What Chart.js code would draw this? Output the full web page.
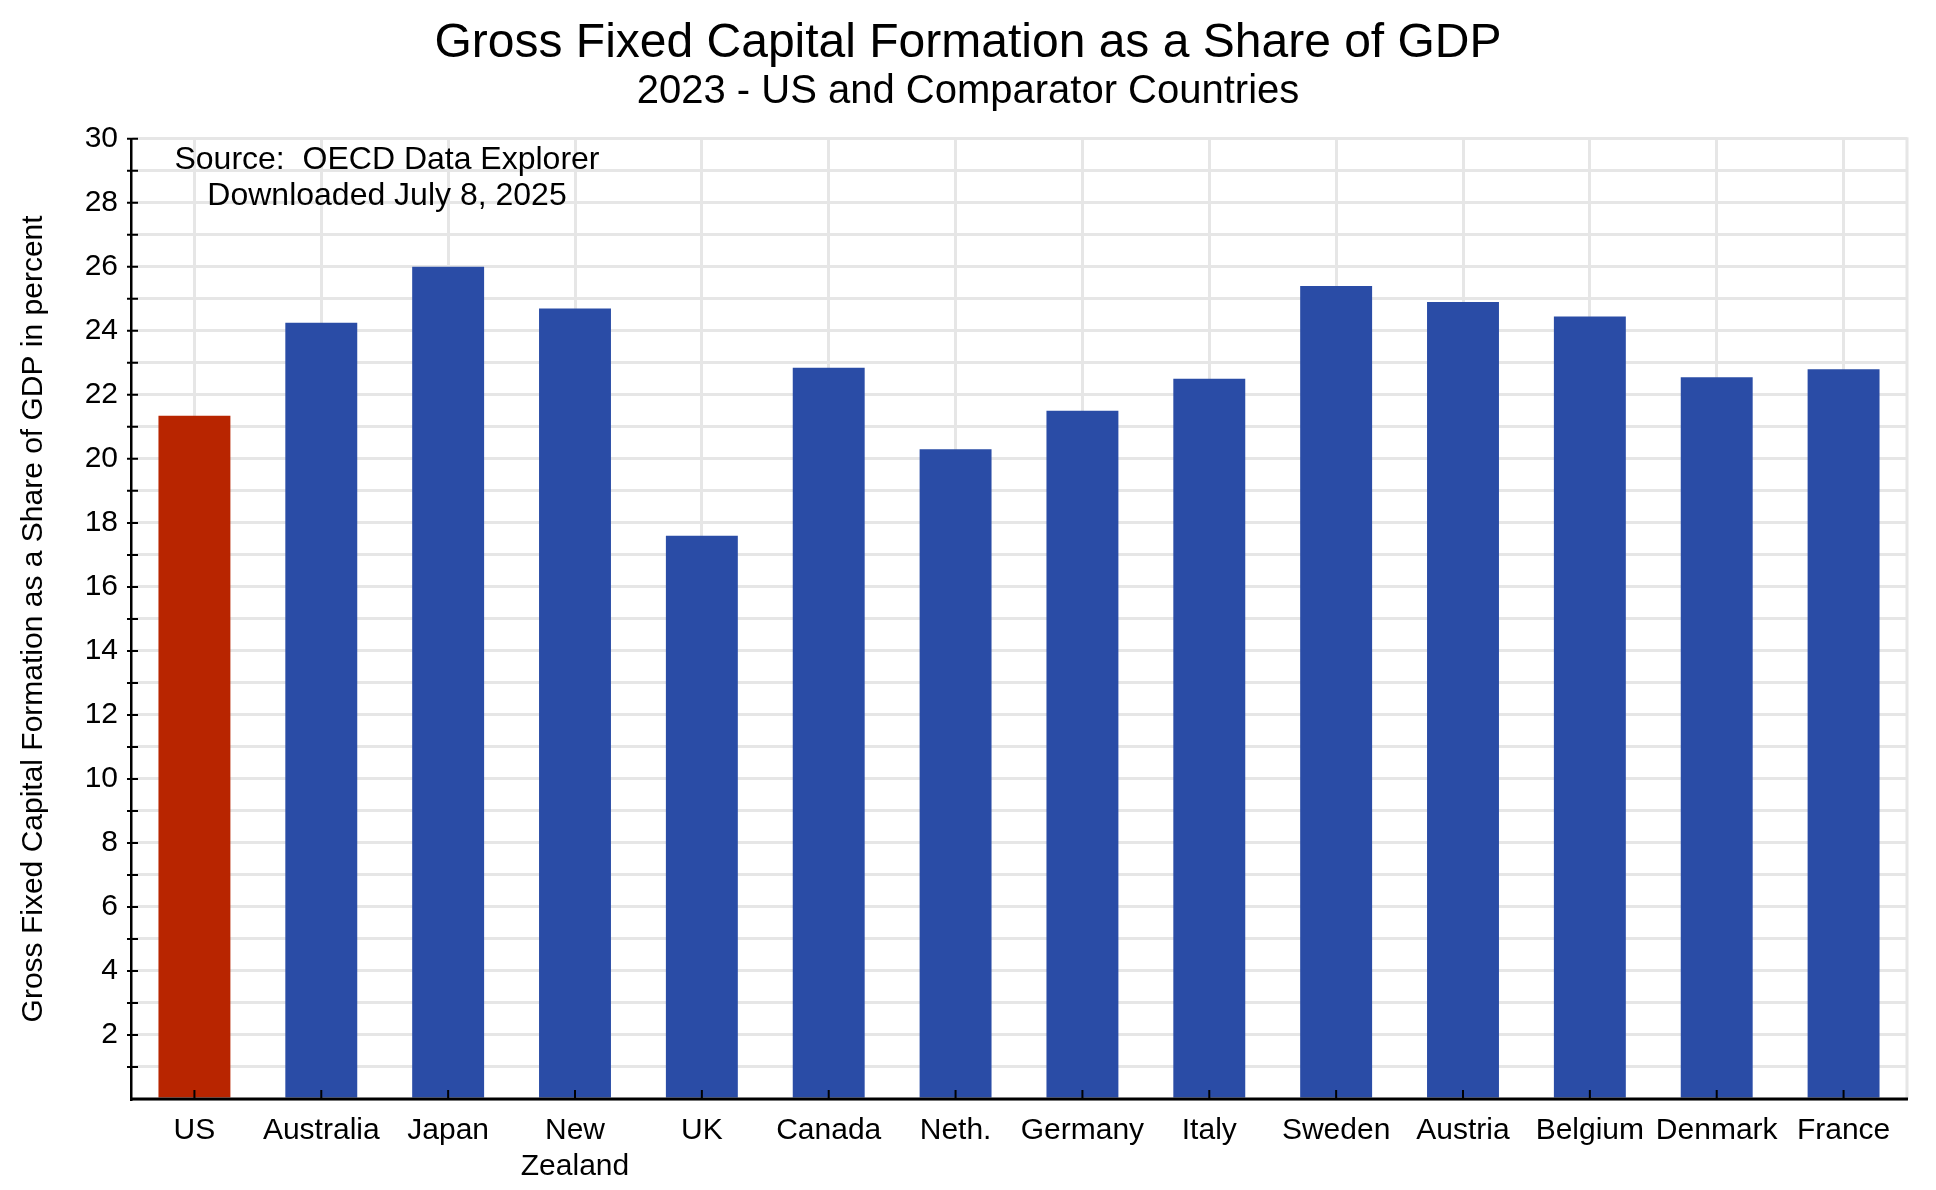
<!DOCTYPE html>
<html>
<head>
<meta charset="utf-8">
<script src="https://cdn.jsdelivr.net/npm/chart.js@4.4.1/dist/chart.umd.min.js"></script>
<style>
  html, body { margin: 0; padding: 0; background: #fff; }
  #wrap { width: 1936px; height: 1190px; }
</style>
</head>
<body>
<div id="wrap"><canvas id="gfcf-chart"></canvas></div>
<script>
const countries = ['US', 'Australia', 'Japan', ['New', 'Zealand'], 'UK', 'Canada', 'Neth.',
  'Germany', 'Italy', 'Sweden', 'Austria', 'Belgium', 'Denmark', 'France']
const gfcfShare = [21.35, 24.25, 26.0, 24.7, 17.6, 22.85, 20.3, 21.5, 22.5, 25.4, 24.9, 24.45, 22.55, 22.8]
const yMin = 0
const yMax = 30
const sourceLines = ['Source:  OECD Data Explorer', 'Downloaded July 8, 2025']

const FONT = "'Liberation Sans', Arial, Helvetica, sans-serif"
const RED = '#b82500'
const BLUE = '#2a4ca6'
const GRID = '#e6e6e6'

// inward x ticks, straddling y ticks, axis line on top of the bars, grey right edge
const axisTicks = {
  id: 'axisTicks',
  afterDatasetsDraw(chart) {
    const {ctx, chartArea, scales: {x, y}} = chart
    ctx.save()
    ctx.strokeStyle = GRID
    ctx.lineWidth = 3
    ctx.beginPath()
    ctx.moveTo(chartArea.right, chartArea.top - 1.5)
    ctx.lineTo(chartArea.right, chartArea.bottom)
    ctx.stroke()

    ctx.strokeStyle = '#000'
    ctx.lineWidth = 3
    ctx.beginPath()
    ctx.moveTo(chartArea.left - 1, chartArea.bottom)
    ctx.lineTo(chartArea.right + 1, chartArea.bottom)
    ctx.stroke()

    ctx.lineWidth = 2
    ctx.beginPath()
    countries.forEach((c, i) => {
      const px = x.getPixelForValue(i)
      ctx.moveTo(px, chartArea.bottom)
      ctx.lineTo(px, chartArea.bottom - 9)
    })
    y.ticks.forEach(t => {
      if (t.value === yMin) return
      const py = y.getPixelForValue(t.value)
      ctx.moveTo(chartArea.left - 4, py)
      ctx.lineTo(chartArea.left + 7, py)
    })
    ctx.stroke()
    ctx.restore()
  },
  afterDraw(chart) {
    const {ctx, chartArea} = chart
    ctx.save()
    ctx.fillStyle = '#000'
    ctx.font = '32px ' + FONT
    ctx.textAlign = 'center'
    ctx.textBaseline = 'middle'
    sourceLines.forEach((s, i) => {
      ctx.fillText(s, chartArea.left + 256, chartArea.top + 21 + i * 36)
    })
    ctx.restore()
  }
}

const ctx = document.getElementById('gfcf-chart')

const chart = new Chart(ctx, {
  type: 'bar',
  data: {
    labels: countries,
    datasets: [{
      label: 'GFCF share of GDP',
      data: gfcfShare,
      backgroundColor: c => countries[c.dataIndex] === 'US' ? RED : BLUE,
      categoryPercentage: 1,
      barPercentage: 0.567,
    }]
  },
  options: {
    responsive: true,
    maintainAspectRatio: false,
    animation: false,
    layout: {
      padding: 0
    },
    plugins: {
      legend: {display: false},
      tooltip: {enabled: false},
      title: {
        display: true,
        text: 'Gross Fixed Capital Formation as a Share of GDP',
        color: '#000',
        font: {family: FONT, size: 48, weight: 'normal', lineHeight: 1.1},
        padding: {top: 17, bottom: 0}
      },
      subtitle: {
        display: true,
        text: '2023 - US and Comparator Countries',
        color: '#000',
        font: {family: FONT, size: 40, weight: 'normal', lineHeight: 1.1},
        padding: {top: 0, bottom: 25}
      }
    },
    scales: {
      x: {
        offset: true,
        grid: {offset: false, color: GRID, lineWidth: 3, drawTicks: false},
        border: {display: false},
        ticks: {
          color: '#000',
          padding: 14,
          maxRotation: 0,
          autoSkip: false,
          font: {family: FONT, size: 30}
        },
        afterFit(scale) { scale.height = 91 }
      },
      y: {
        min: yMin,
        max: yMax,
        grid: {color: GRID, lineWidth: 3, drawTicks: false},
        border: {display: true, color: '#000', width: 2.5},
        ticks: {
          stepSize: 1,
          autoSkip: false,
          color: '#000',
          padding: 13,
          font: {family: FONT, size: 30},
          callback: v => (v % 2 === 0 && v !== 0) ? v : ''
        },
        title: {
          display: true,
          text: 'Gross Fixed Capital Formation as a Share of GDP in percent',
          color: '#000',
          font: {family: FONT, size: 30},
          padding: {top: 16, bottom: 0}
        },
        afterFit(scale) { scale.width = 131 }
      },
      // empty right-hand box so the plot ends short of the canvas edge
      yRight: {
        position: 'right',
        display: true,
        grid: {display: false},
        border: {display: false},
        ticks: {display: false},
        afterFit(scale) { scale.width = 29 }
      }
    }
  },
  plugins: [axisTicks]
})
</script>
</body>
</html>
